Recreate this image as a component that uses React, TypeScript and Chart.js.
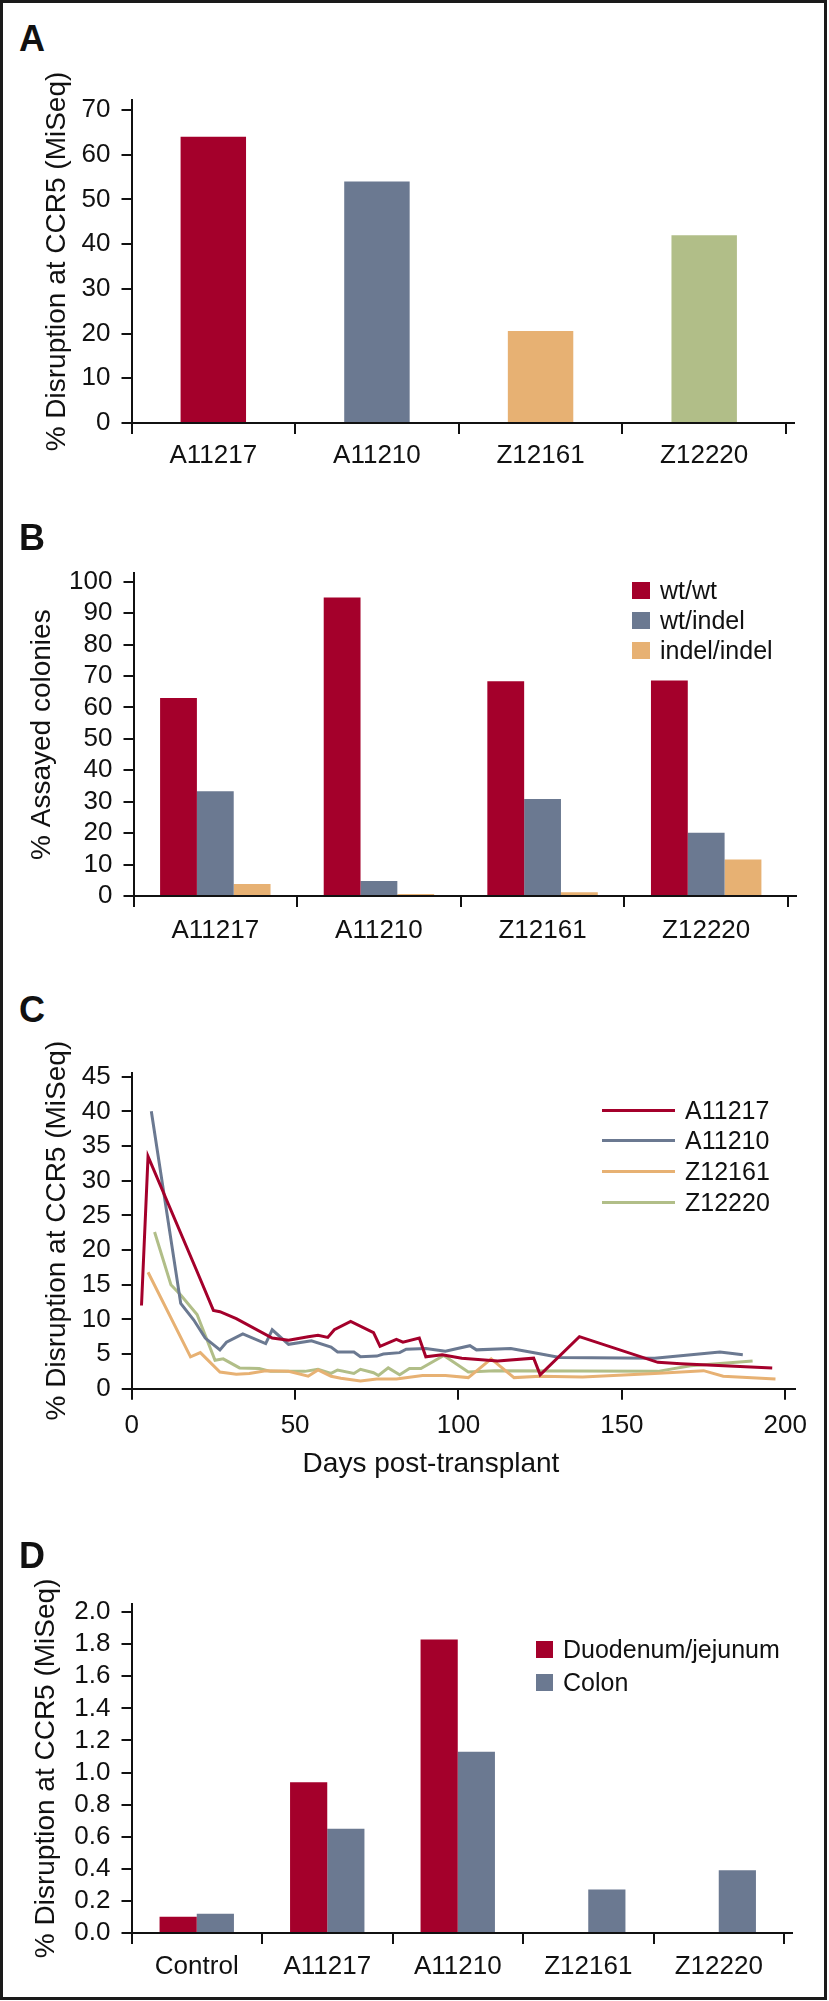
import React, { useEffect, useRef } from "react";
import { Chart, registerables } from "chart.js";

Chart.register(...registerables);

// ---------------- data ----------------
const animals = ["A11217", "A11210", "Z12161", "Z12220"];

// Panel A
const disruptionBlood = [64.0, 54.0, 20.6, 42.0];

// Panel B
const wtWt = [63.0, 95.0, 68.3, 68.6];
const wtIndel = [33.3, 4.8, 30.9, 20.1];
const indelIndel = [3.8, 0.6, 1.2, 11.6];

// Panel C (days post-transplant, % disruption)
const daysA11217 = [3, 5, 20, 25, 27, 32, 43, 48, 54, 57, 60, 62, 67, 74, 76, 81, 83, 88, 90, 95, 101, 112, 123, 125, 137, 161, 168, 196];
const valsA11217 = [12.0, 33.5, 16.9, 11.3, 11.1, 10.1, 7.3, 7.0, 7.5, 7.7, 7.4, 8.5, 9.7, 8.1, 6.1, 7.1, 6.7, 7.3, 4.6, 4.9, 4.4, 4.0, 4.4, 2.0, 7.5, 3.8, 3.6, 3.0];

const daysA11210 = [6, 15, 19, 22.5, 27, 29, 34, 41, 43, 48, 55, 61, 63, 68, 70, 75, 77, 82, 84, 90, 96, 103.5, 105.5, 116, 124, 131, 160, 180, 187];
const valsA11210 = [40.0, 12.3, 9.9, 7.3, 5.6, 6.7, 7.9, 6.5, 8.5, 6.4, 6.9, 6.0, 5.3, 5.3, 4.6, 4.7, 5.0, 5.2, 5.7, 5.8, 5.4, 6.2, 5.6, 5.8, 5.1, 4.5, 4.4, 5.3, 4.9];

const daysZ12161 = [5, 18, 21, 27, 32, 36, 41, 48, 54, 57, 61, 64, 70, 75, 81, 89, 96, 103, 110, 117, 125, 138, 160, 175, 181, 197];
const valsZ12161 = [16.8, 4.6, 5.2, 2.4, 2.1, 2.2, 2.6, 2.5, 1.8, 2.7, 1.8, 1.5, 1.1, 1.4, 1.4, 1.9, 1.9, 1.6, 4.3, 1.6, 1.8, 1.7, 2.2, 2.6, 1.8, 1.4];

const daysZ12220 = [7, 12, 15, 20, 25.5, 28, 33, 39, 42.5, 53, 57, 61, 63, 68, 70, 74, 75.5, 78.5, 82, 85, 88.5, 95.5, 103, 111, 161, 171, 190];
const valsZ12220 = [22.6, 15.0, 13.5, 10.7, 4.1, 4.3, 3.0, 2.9, 2.5, 2.5, 2.8, 2.2, 2.7, 2.2, 2.8, 2.3, 1.9, 3.0, 2.0, 2.9, 2.9, 4.8, 2.4, 2.6, 2.5, 3.3, 4.0];

// Panel D
const gutCategories = ["Control", "A11217", "A11210", "Z12161", "Z12220"];
const duodenumJejunum = [0.10, 0.94, 1.83, null, null];
const colon = [0.12, 0.65, 1.13, 0.27, 0.39];

// ---------------- styles ----------------
const FONT = '"Liberation Sans", Arial, Helvetica, sans-serif';
const RED = "#A4002B";
const SLATE = "#6B7991";
const ORANGE = "#E7B173";
const GREEN = "#B1BE88";
const INK = "#111111";
const TICK_FONT = { family: FONT, size: 26 };
const TITLE_FONT = { family: FONT, size: 28 };
const YTITLE = "% Disruption at CCR5 (MiSeq)";

const axisOverhang = {
  id: "axisOverhang",
  afterDraw(chart: any) {
    const { ctx, chartArea } = chart;
    const y = Math.round(chartArea.bottom);
    ctx.save();
    ctx.strokeStyle = INK;
    ctx.lineWidth = 2;
    ctx.beginPath();
    ctx.moveTo(chartArea.right - 1, y);
    ctx.lineTo(chartArea.right + 9, y);
    ctx.stroke();
    ctx.restore();
  },
};

function yScale(o: { min: number; max: number; step: number; title: string; titlePad: number; width: number; fmt?: (v: any) => string }) {
  return {
    min: o.min,
    max: o.max,
    afterFit: (s: any) => {
      s.width = o.width;
    },
    border: { display: true, color: INK, width: 2 },
    grid: { display: true, drawOnChartArea: false, drawTicks: true, tickLength: 10, color: INK, lineWidth: 2 },
    ticks: {
      stepSize: o.step,
      includeBounds: false,
      autoSkip: false,
      color: INK,
      font: TICK_FONT,
      padding: 11,
      callback: o.fmt ? o.fmt : (v: any) => String(v),
    },
    title: { display: true, text: o.title, color: INK, font: TITLE_FONT, padding: { top: o.titlePad, bottom: 0 } },
  };
}

function xCategory(height: number, pad: number) {
  return {
    afterFit: (s: any) => {
      s.height = height;
    },
    border: { display: true, color: INK, width: 2 },
    grid: { display: true, offset: true, drawOnChartArea: false, drawTicks: true, tickLength: 11, color: INK, lineWidth: 2 },
    ticks: { color: INK, font: TICK_FONT, padding: pad, maxRotation: 0, autoSkip: false },
  };
}

const baseOptions = (padding: any) => ({
  responsive: false,
  animation: false,
  devicePixelRatio: 1,
  layout: { padding },
  plugins: { legend: { display: false }, tooltip: { enabled: false } },
});

function configA() {
  return {
    type: "bar",
    data: {
      labels: animals,
      datasets: [
        {
          data: disruptionBlood,
          backgroundColor: [RED, SLATE, ORANGE, GREEN],
          categoryPercentage: 0.4,
          barPercentage: 1,
        },
      ],
    },
    options: {
      ...baseOptions({ left: 0, right: 43, top: 40, bottom: 0 }),
      scales: {
        x: xCategory(67, 6.4),
        y: yScale({ min: 0, max: 72.24, step: 10, title: YTITLE, titlePad: 40.2, width: 131.5 }),
      },
    },
    plugins: [axisOverhang],
  };
}

function configB() {
  const ds = (label: string, data: number[], color: string) => ({
    label,
    data,
    backgroundColor: color,
    categoryPercentage: 0.675,
    barPercentage: 1,
  });
  return {
    type: "bar",
    data: {
      labels: animals,
      datasets: [ds("wt/wt", wtWt, RED), ds("wt/indel", wtIndel, SLATE), ds("indel/indel", indelIndel, ORANGE)],
    },
    options: {
      ...baseOptions({ left: 0, right: 41, top: 43.3, bottom: 0 }),
      scales: {
        x: xCategory(64, 7.9),
        y: yScale({ min: 0, max: 102.67, step: 10, title: "% Assayed colonies", titlePad: 25.7, width: 133.5 }),
      },
    },
    plugins: [axisOverhang],
  };
}

function configC() {
  const ds = (label: string, days: number[], vals: number[], color: string) => ({
    label,
    data: days.map((d, i) => ({ x: d, y: vals[i] })),
    borderColor: color,
    backgroundColor: color,
    borderWidth: 3,
    pointRadius: 0,
    tension: 0,
    fill: false,
  });
  return {
    type: "line",
    data: {
      datasets: [
        ds("A11217", daysA11217, valsA11217, RED),
        ds("A11210", daysA11210, valsA11210, SLATE),
        ds("Z12161", daysZ12161, valsZ12161, ORANGE),
        ds("Z12220", daysZ12220, valsZ12220, GREEN),
      ],
    },
    options: {
      ...baseOptions({ left: 0, right: 34.4, top: 42.5, bottom: 0 }),
      scales: {
        x: {
          type: "linear",
          min: 0,
          max: 202.85,
          afterFit: (s: any) => {
            s.height = 101.3;
          },
          border: { display: true, color: INK, width: 2 },
          grid: { display: true, drawOnChartArea: false, drawTicks: true, tickLength: 11, color: INK, lineWidth: 2 },
          ticks: { stepSize: 50, includeBounds: false, autoSkip: false, color: INK, font: TICK_FONT, padding: 10.7, maxRotation: 0 },
        },
        y: yScale({ min: 0, max: 45.6, step: 5, title: YTITLE, titlePad: 40.2, width: 131.7 }),
      },
    },
  };
}

function configD() {
  const ds = (label: string, data: (number | null)[], color: string) => ({
    label,
    data,
    backgroundColor: color,
    categoryPercentage: 0.57,
    barPercentage: 1,
  });
  return {
    type: "bar",
    data: {
      labels: gutCategories,
      datasets: [ds("Duodenum/jejunum", duodenumJejunum, RED), ds("Colon", colon, SLATE)],
    },
    options: {
      ...baseOptions({ left: 0, right: 45, top: 43.8, bottom: 0 }),
      scales: {
        x: xCategory(57.1, 7.5),
        y: yScale({
          min: 0,
          max: 2.052,
          step: 0.2,
          title: YTITLE,
          titlePad: 29.2,
          width: 131.5,
          fmt: (v: any) => Number(v).toFixed(1),
        }),
      },
    },
    plugins: [axisOverhang],
  };
}

function ChartCanvas({ top, height, build }: { top: number; height: number; build: () => any }) {
  const ref = useRef<HTMLCanvasElement>(null);
  useEffect(() => {
    const chart = new Chart(ref.current as HTMLCanvasElement, build());
    return () => chart.destroy();
  }, []);
  return (
    <canvas
      ref={ref}
      width={829}
      height={height}
      style={{ position: "absolute", left: 0, top, width: 829, height, display: "block" }}
    />
  );
}

const textBase: React.CSSProperties = { fontFamily: FONT, color: INK, position: "absolute", whiteSpace: "nowrap" };

function PanelLetter({ letter, top }: { letter: string; top: number }) {
  return (
    <div style={{ ...textBase, left: 19, top, fontSize: 36, lineHeight: "36px", fontWeight: 700 }}>{letter}</div>
  );
}

function LegendRow({
  left,
  center,
  label,
  color,
  gap,
  markW,
  markH,
}: {
  left: number;
  center: number;
  label: string;
  color: string;
  gap: number;
  markW: number;
  markH: number;
}) {
  return (
    <div
      style={{
        position: "absolute",
        left,
        top: center - 15,
        height: 30,
        display: "flex",
        alignItems: "center",
      }}
    >
      <div style={{ width: markW, height: markH, background: color, marginRight: gap, flex: "none" }} />
      <span style={{ fontFamily: FONT, fontSize: 25, lineHeight: "25px", color: INK, whiteSpace: "nowrap" }}>{label}</span>
    </div>
  );
}

export default function App() {
  return (
    <div style={{ position: "absolute", left: 0, top: 0, width: 829, height: 2001, background: "#fff", overflow: "hidden" }}>
      <div
        style={{
          position: "absolute",
          left: 0,
          top: 0,
          width: 827,
          height: 2000,
          boxSizing: "border-box",
          border: "3px solid #1a1a1a",
        }}
      />
      <ChartCanvas top={60} height={430} build={configA} />
      <ChartCanvas top={530} height={430} build={configB} />
      <ChartCanvas top={1030} height={460} build={configC} />
      <ChartCanvas top={1560} height={430} build={configD} />

      <PanelLetter letter="A" top={21} />
      <PanelLetter letter="B" top={520} />
      <PanelLetter letter="C" top={992} />
      <PanelLetter letter="D" top={1538} />

      {/* Legend B */}
      <LegendRow left={632} center={590} label="wt/wt" color={RED} gap={10} markW={18} markH={17} />
      <LegendRow left={632} center={620.7} label="wt/indel" color={SLATE} gap={10} markW={18} markH={17} />
      <LegendRow left={632} center={650.7} label="indel/indel" color={ORANGE} gap={10} markW={18} markH={17} />

      {/* Legend C */}
      <LegendRow left={602} center={1110} label="A11217" color={RED} gap={10} markW={73} markH={3} />
      <LegendRow left={602} center={1140.7} label="A11210" color={SLATE} gap={10} markW={73} markH={3} />
      <LegendRow left={602} center={1171.7} label="Z12161" color={ORANGE} gap={10} markW={73} markH={3} />
      <LegendRow left={602} center={1202.5} label="Z12220" color={GREEN} gap={10} markW={73} markH={3} />

      {/* Legend D */}
      <LegendRow left={536} center={1649.5} label="Duodenum/jejunum" color={RED} gap={10} markW={17} markH={17} />
      <LegendRow left={536} center={1682.7} label="Colon" color={SLATE} gap={10} markW={17} markH={17} />

      {/* x-axis title of panel C */}
      <div style={{ ...textBase, left: 231, width: 400, textAlign: "center", top: 1449, fontSize: 28, lineHeight: "28px" }}>
        Days post-transplant
      </div>
    </div>
  );
}
